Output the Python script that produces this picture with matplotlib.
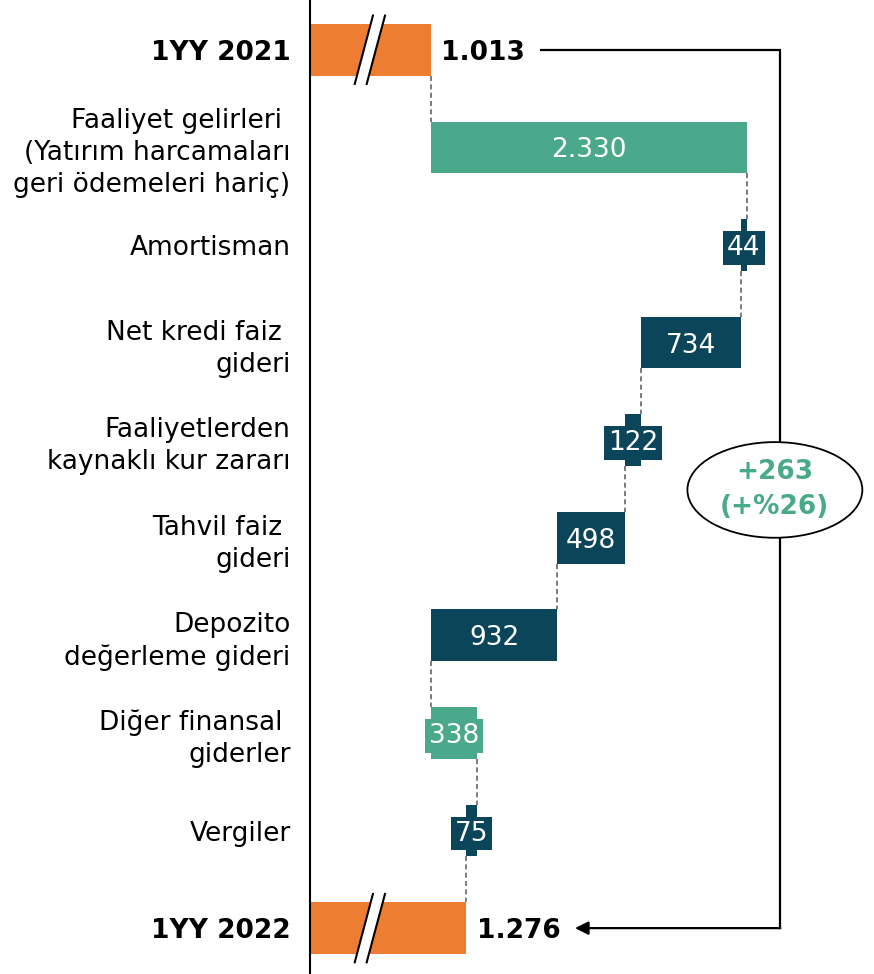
import matplotlib.pyplot as plt
from matplotlib.patches import Ellipse, Polygon

# data
categories = ["1YY 2021",
              "Faaliyet gelirleri \n(Yatırım harcamaları\ngeri ödemeleri hariç)",
              "Amortisman",
              "Net kredi faiz \ngideri",
              "Faaliyetlerden\nkaynaklı kur zararı",
              "Tahvil faiz \ngideri",
              "Depozito\ndeğerleme gideri",
              "Diğer finansal \ngiderler",
              "Vergiler",
              "1YY 2022"]
start_value = 1013
changes = [2330, -44, -734, -122, -498, -932, 338, -75]
end_value = 1276
change_label = "+263\n(+%26)"

orange = "#ED7D31"
green = "#49A98A"
dark = "#0B4559"
fs = 19


def fmt(v):
    return f"{abs(v):,}".replace(",", ".")


fig = plt.figure(figsize=(8.74, 9.74), dpi=100)
ax = fig.add_axes([310 / 874, 0, 1 - 310 / 874, 1])
ax.set_xlim(122, 4281)
ax.set_ylim(9.47, -0.51)
h = 0.53

# start and end bars (axis broken)
for row, val in [(0, start_value), (9, end_value)]:
    ax.barh(row, val, height=h, color=orange, zorder=2)
    ax.text(val + 75, row, fmt(val), ha="left", va="center_baseline", fontsize=fs,
            fontweight="bold", zorder=5)
    brk = Polygon([[452, row + 0.35], [540, row + 0.35],
                   [675, row - 0.35], [586, row - 0.35]],
                  closed=True, facecolor="white", edgecolor="none", zorder=3)
    ax.add_patch(brk)
    ax.plot([452, 586], [row + 0.35, row - 0.35], color="black", lw=1.5, zorder=4)
    ax.plot([540, 675], [row + 0.35, row - 0.35], color="black", lw=1.5, zorder=4)

# floating bars
total = start_value
for i, ch in enumerate(changes):
    row = i + 1
    left = min(total, total + ch)
    color = green if ch > 0 else dark
    ax.barh(row, abs(ch), left=left, height=h, color=color, zorder=2)
    # connector from previous bar
    ax.plot([total, total], [row - 1 + h / 2, row - h / 2], color="#666666",
            lw=1.2, ls=(0, (3, 2)), zorder=1)
    mid = left + abs(ch) / 2
    if abs(ch) < 400:
        ax.text(mid, row, fmt(ch), ha="center", va="center_baseline", color="white",
                fontsize=fs, zorder=5,
                bbox=dict(boxstyle="square,pad=0.15", fc=color, ec="none"))
    else:
        ax.text(mid, row, fmt(ch), ha="center", va="center_baseline", color="white",
                fontsize=fs, zorder=5)
    total += ch
ax.plot([total, total], [8 + h / 2, 9 - h / 2], color="#666666",
        lw=1.2, ls=(0, (3, 2)), zorder=1)

# bracket with arrow
bracket_x = 3590
ax.plot([start_value + 810, bracket_x, bracket_x], [0, 0, 9], color="black",
        lw=1.6, zorder=1, solid_joinstyle="miter")
ax.annotate("", xy=(end_value + 800, 9), xytext=(bracket_x, 9),
            arrowprops=dict(arrowstyle="-|>", lw=1.6, color="black",
                            shrinkA=0, shrinkB=0, mutation_scale=20))
ax.add_patch(Ellipse((3550, 4.51), 1290, 0.98, facecolor="white",
                     edgecolor="black", lw=1.3, zorder=3))
ax.text(3550, 4.51, change_label, ha="center", va="center", color=green,
        fontsize=fs, fontweight="bold", linespacing=1.45, zorder=4)

# axis
ax.set_yticks(range(len(categories)))
ax.set_yticklabels(categories, fontsize=fs, linespacing=1.3)
for i in (0, len(categories) - 1):
    ax.get_yticklabels()[i].set_fontweight("bold")
ax.tick_params(axis="y", length=0, pad=14)
ax.set_xticks([])
for s in ["top", "right", "bottom"]:
    ax.spines[s].set_visible(False)
ax.spines["left"].set_linewidth(1.5)

plt.savefig("out.png", dpi=100)
